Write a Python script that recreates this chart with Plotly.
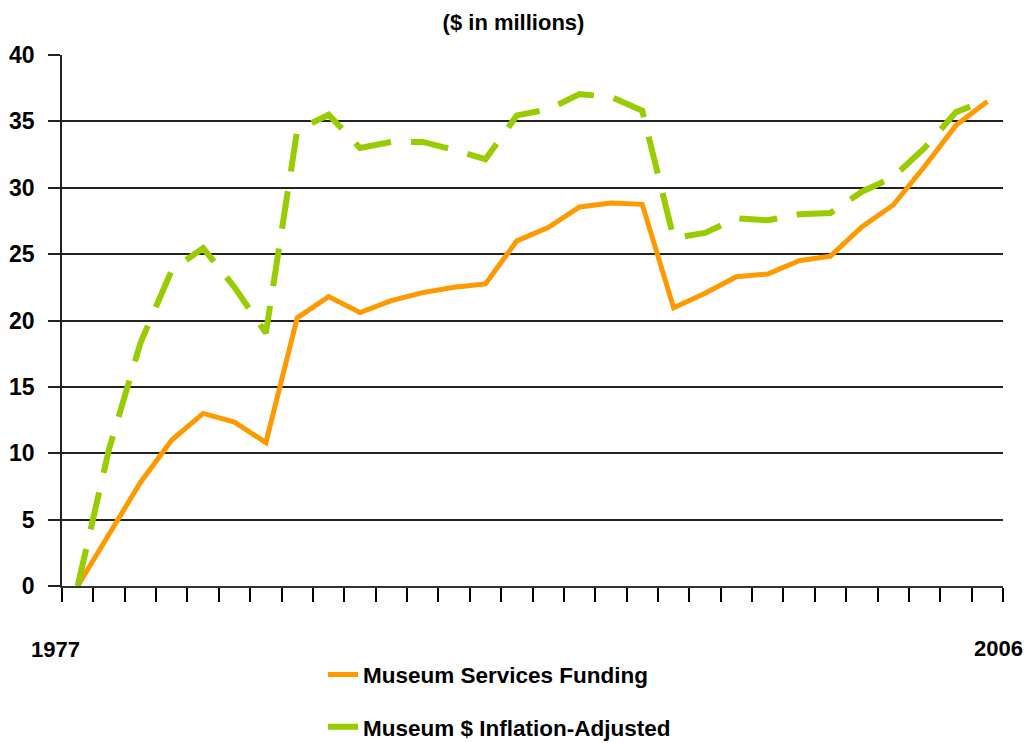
import plotly.graph_objects as go

years = list(range(1977, 2007))
funding = [0, 3.9, 7.8, 11.0, 13.0, 12.35, 10.8, 20.2, 21.8, 20.6, 21.5, 22.1, 22.5, 22.75,
           26.0, 27.0, 28.55, 28.85, 28.75, 20.95, 22.05, 23.3, 23.5, 24.5, 24.85, 27.05,
           28.7, 31.6, 34.7, 36.5]
adjusted = [0, 10.3, 18.3, 23.8, 25.45, 22.5, 19.05, 34.35, 35.5, 33.0, 33.45, 33.45, 32.85,
            32.15, 35.45, 35.9, 37.05, 36.85, 35.8, 26.2, 26.6, 27.7, 27.55, 28.0, 28.1,
            29.7, 30.8, 33.0, 35.7, 36.6]
y_ticks = [0, 5, 10, 15, 20, 25, 30, 35, 40]
series_names = ["Museum Services Funding", "Museum $ Inflation-Adjusted"]
title_text = "($ in millions)"
first_label, last_label = "1977", "2006"

FONT = "Liberation Sans, Arial, sans-serif"
ORANGE = "#FF9900"
GREEN = "#99CC00"

fig = go.Figure()
fig.add_trace(go.Scatter(
    x=years, y=funding, mode="lines", name=series_names[0],
    line=dict(color=ORANGE, width=5), legendgroup="a"))
fig.add_trace(go.Scatter(
    x=years, y=adjusted, mode="lines", name=series_names[1],
    line=dict(color=GREEN, width=6, dash="38px,20px"), legendgroup="b"))

boundaries = [years[0] - 0.5 + k for k in range(len(years) + 1)]

fig.update_layout(
    width=1027, height=743,
    margin=dict(l=62, r=24, t=55, b=157, autoexpand=False),
    paper_bgcolor="white", plot_bgcolor="white",
    font=dict(family=FONT, size=21, color="black", weight="bold"),
    title=dict(text=title_text, x=0.5, xanchor="center", y=1 - 22 / 743, yanchor="middle",
               font=dict(family=FONT, size=22, color="black", weight="bold")),
    xaxis=dict(range=[years[0] - 0.5, years[-1] + 0.5], tickvals=boundaries,
               showticklabels=False, ticks="outside", ticklen=14, tickwidth=2,
               tickcolor="black", showgrid=False, showline=True, linecolor="#333",
               linewidth=1.5, zeroline=False, fixedrange=True, automargin=False),
    yaxis=dict(range=[0, 40], tickvals=y_ticks, ticks="outside", ticklen=12,
               tickwidth=1.5, tickcolor="#222", showgrid=True, gridcolor="#222",
               gridwidth=1.5, showline=True, linecolor="#222", linewidth=1.5,
               zeroline=False, ticklabelstandoff=9, automargin=False,
               tickfont=dict(family=FONT, size=23, color="black", weight="bold")),
    legend=dict(xref="container", yref="container", x=0.3145, y=0.1205,
                xanchor="left", yanchor="top",
                traceorder="grouped", tracegroupgap=20,
                font=dict(family=FONT, size=22.5, color="black", weight="bold"),
                bgcolor="rgba(0,0,0,0)"),
    showlegend=True,
)

fig.add_annotation(text=first_label, xref="paper", yref="paper", x=-0.0064, y=-0.12,
                   xanchor="center", yanchor="middle", showarrow=False,
                   font=dict(family=FONT, size=22, color="black", weight="bold"))
fig.add_annotation(text=last_label, xref="paper", yref="paper", x=0.995, y=-0.117,
                   xanchor="center", yanchor="middle", showarrow=False,
                   font=dict(family=FONT, size=22, color="black", weight="bold"))

fig.write_html("out.html", config={"displayModeBar": False},
               post_script="document.body.style.margin='0';document.body.style.overflow='hidden';")
